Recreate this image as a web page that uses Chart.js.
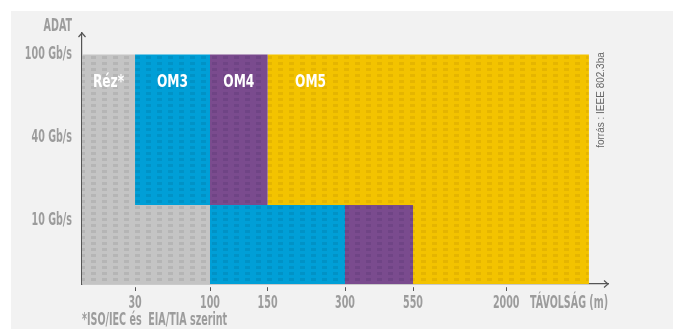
<!DOCTYPE html>
<html><head><meta charset="utf-8">
<script src="https://cdn.jsdelivr.net/npm/chart.js@4/dist/chart.umd.min.js"></script>
<style>
html,body{margin:0;padding:0;background:#fff;}
#wrap{position:relative;width:683px;height:329px;overflow:hidden;}
#panel{position:absolute;left:11px;top:11px;width:662px;height:318px;background:#f2f2f2;}
canvas{position:absolute;left:0;top:0;}
</style></head><body>
<div id="wrap"><div id="panel"></div><canvas id="c" width="683" height="329"></canvas></div>
<script>
// ---------------- data ----------------
const media = ['Réz*', 'OM3', 'OM4', 'OM5'];
// maximum reach (m) of each medium at 40/100 Gb/s and at 10 Gb/s ('max' = beyond the scale)
const reachHigh = [30, 100, 150, 'max'];
const reachLow = [100, 300, 550, 'max'];
const distanceTicks = [30, 100, 150, 300, 550, 2000];
const rateTicks = ['10 Gb/s', '40 Gb/s', '100 Gb/s'];
const baseColors = ['#c4c4c4', '#009fd7', '#7a4b8e', '#f3c300'];
const dashColors = ['#b5b5b5', '#0092c6', '#6f4485', '#e5b500'];

// ---------------- schematic axis mapping (options) ----------------
const xAxisPos = {0: 0, 30: 1.0, 100: 2.414, 150: 3.50, 300: 4.96, 550: 6.243, 2000: 8.0, max: 9.56};
const X_MAX = 9.92;
const Y_MIN = 0.226, Y_MAX = 3.26;
const LEVEL_TOP = 3;          // 100 Gb/s
const BAND_SPLIT = 1.18;      // boundary between 10 Gb/s band and 40/100 Gb/s band
const OM3_HIGH_BOTTOM = 1.114;
const pos = d => xAxisPos[d];

const SQUEEZE = 0.59;         // horizontal condensing of the gray labels
function makePattern(base, dash) {
  const c = document.createElement('canvas');
  c.width = 11; c.height = 6;
  const g = c.getContext('2d');
  g.fillStyle = base; g.fillRect(0, 0, 11, 6);
  g.fillStyle = dash; g.fillRect(3, 2, 5, 3);
  return g.createPattern(c, 'repeat');
}

const datasets = media.map((m, i) => {
  const x0h = pos(i === 0 ? 0 : reachHigh[i - 1]), x1h = pos(reachHigh[i]);
  const x0l = pos(i === 0 ? 0 : reachLow[i - 1]), x1l = pos(reachLow[i]);
  const hb = i === 1 ? OM3_HIGH_BOTTOM : BAND_SPLIT;
  return {
    label: m,
    data: [
      {x: x0h, y: LEVEL_TOP}, {x: x1h, y: LEVEL_TOP}, {x: x1h, y: BAND_SPLIT},
      {x: x1l, y: BAND_SPLIT}, {x: x1l, y: Y_MIN}, {x: x0l, y: Y_MIN},
      {x: x0l, y: hb}, {x: x0h, y: hb}
    ],
    fill: 'shape',
    backgroundColor: makePattern(baseColors[i], dashColors[i]),
    borderWidth: 0,
    pointRadius: 0,
    tension: 0
  };
});

const FONT = "'DejaVu Sans Condensed', 'DejaVu Sans', sans-serif";
const TXT = '#9c9c9c';

// condense the axis tick labels horizontally (scale after each label's rotate call)
const condense = {
  id: 'condense',
  beforeDraw(chart) {
    const ctx = chart.ctx;
    const orig = CanvasRenderingContext2D.prototype.rotate;
    ctx.rotate = function (a) { orig.call(this, a); this.scale(SQUEEZE, 1); };
  },
  beforeDatasetsDraw(chart) { delete chart.ctx.rotate; }
};

function squeezedText(ctx, text, x, y, k) {
  ctx.save(); ctx.translate(x, y); ctx.scale(k, 1); ctx.fillText(text, 0, 0); ctx.restore();
}

const decor = {
  id: 'decor',
  afterDraw(chart) {
    const {ctx, chartArea: a, scales: {x, y}} = chart;
    delete ctx.rotate;
    ctx.save();
    // arrows
    ctx.strokeStyle = '#555'; ctx.lineWidth = 1.2;
    ctx.beginPath();
    ctx.moveTo(a.left - 3.5, a.top + 4); ctx.lineTo(a.left, a.top); ctx.lineTo(a.left + 3.5, a.top + 4);
    ctx.moveTo(a.right - 4, a.bottom - 3.5); ctx.lineTo(a.right, a.bottom); ctx.lineTo(a.right - 4, a.bottom + 3.5);
    ctx.stroke();
    // medium labels
    ctx.fillStyle = '#fff';
    ctx.font = "bold 17px " + FONT;
    ctx.textAlign = 'center'; ctx.textBaseline = 'middle';
    const ty = y.getPixelForValue(LEVEL_TOP) + 28;
    media.forEach((m, i) => {
      const p0 = x.getPixelForValue(pos(i === 0 ? 0 : reachHigh[i - 1]));
      const p1 = x.getPixelForValue(pos(reachHigh[i]));
      squeezedText(ctx, m, p0 + Math.min((p1 - p0) / 2, 43), ty, 0.8);
    });
    // axis names & notes
    ctx.fillStyle = TXT;
    ctx.font = "bold 18px " + FONT;
    ctx.textAlign = 'right';
    squeezedText(ctx, 'ADAT', 72, 26, SQUEEZE);
    squeezedText(ctx, 'TÁVOLSÁG (m)', a.right, 303, SQUEEZE);
    ctx.textAlign = 'left';
    squeezedText(ctx, '*ISO/IEC és  EIA/TIA szerint', a.left, 320.5, SQUEEZE);
    // source
    ctx.save();
    ctx.translate(601, 100);
    ctx.rotate(-Math.PI / 2);
    ctx.textAlign = 'center';
    ctx.fillStyle = '#666';
    ctx.font = "10px 'Liberation Sans', Arial, sans-serif";
    ctx.fillText('forrás : IEEE 802.3ba', 0, 0);
    ctx.restore();
    ctx.restore();
  }
};

new Chart(document.getElementById('c'), {
  type: 'line',
  data: {datasets},
  plugins: [condense, decor],
  options: {
    responsive: false,
    animation: false,
    devicePixelRatio: 1,
    layout: {padding: {top: 33, right: 75, left: 0, bottom: 0}},
    plugins: {legend: {display: false}, tooltip: {enabled: false}},
    scales: {
      x: {
        type: 'linear', min: 0, max: X_MAX,
        afterBuildTicks: s => { s.ticks = distanceTicks.map(d => ({value: pos(d)})); },
        afterFit: s => { s.height = 45; },
        ticks: {
          callback: (v, i) => String(distanceTicks[i]),
          color: TXT, font: {family: FONT, size: 18, weight: 'bold'}, padding: 2, maxRotation: 0, autoSkip: false
        },
        grid: {drawOnChartArea: false, drawTicks: true, tickLength: 7, color: '#555', tickBorderDash: [0, 3, 4, 30]},
        border: {display: true, color: '#555', width: 1.2}
      },
      y: {
        type: 'linear', min: Y_MIN, max: Y_MAX,
        afterBuildTicks: s => { s.ticks = rateTicks.map((t, i) => ({value: i + 1})); },
        afterFit: s => { s.width = 82; },
        ticks: {
          callback: (v, i) => rateTicks[i],
          color: TXT, font: {family: FONT, size: 18, weight: 'bold'}, padding: 10
        },
        grid: {display: false, drawTicks: false},
        border: {display: true, color: '#555', width: 1.2}
      }
    }
  }
});
</script>
</body></html>
